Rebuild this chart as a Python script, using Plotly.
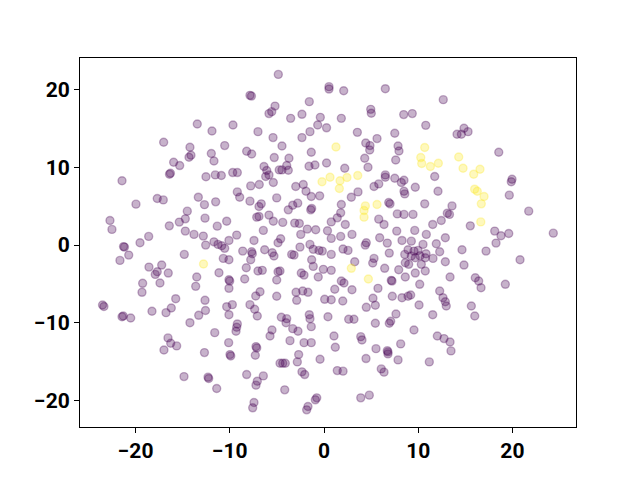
import plotly.graph_objects as go

# purple (class 0) points
purple_x = [-13.45,-17.02,-14.23,-14.33,-14.12,-15.96,-15.32,-16.40,-16.30,-21.44,-12.53,-4.85,-7.86,-7.70,-5.20,-5.55,-5.84,-1.56,-3.54,-2.34,
-0.39,-0.67,0.27,-9.66,-11.89,-7.01,-1.49,-5.41,-2.34,-4.46,-10.54,-11.96,-11.68,-8.21,-7.68,-1.35,-5.28,-3.72,-3.96,-1.59,
-0.96,0.27,-6.37,-6.08,-5.84,-6.19,-4.75,-4.46,-3.79,-11.54,-10.90,-9.69,-9.20,0.53,0.53,2.09,6.51,12.66,4.96,5.02,
8.46,9.37,1.84,10.80,3.54,7.51,5.63,4.43,4.88,4.85,7.86,7.96,4.32,7.61,2.20,4.67,11.75,6.51,6.51,7.51,
8.49,14.12,14.58,14.86,15.29,18.55,19.96,19.88,-17.70,-17.06,-13.34,-19.96,-12.69,-14.51,-14.72,-15.36,-22.72,-22.51,-16.42,-14.72,
-13.80,-12.81,-12.63,-18.61,-19.53,-21.28,-21.18,-20.73,-21.66,-14.83,-18.58,-17.23,-17.70,-17.91,-16.53,-13.51,-13.62,-19.25,-19.32,-17.41,
-15.74,-12.63,-23.51,-23.36,-7.78,-6.87,-5.38,-3.00,-2.20,-9.20,-8.95,-1.91,-1.35,-0.46,-11.50,-7.86,-5.02,-6.66,-6.90,-2.79,
-3.32,-3.79,-1.31,-1.41,-10.33,-6.90,-7.14,-5.84,-5.38,-4.38,-3.11,-2.62,-11.33,-6.44,-1.77,-0.88,0.37,-2.47,-9.27,-10.09,
-7.43,-4.60,-4.88,-11.68,-11.25,-10.86,-10.54,-12.56,-1.49,-1.14,-0.53,-2.55,-8.63,-7.68,-7.61,-6.30,-5.49,-5.31,-3.43,-3.18,
-0.18,-10.69,-10.09,-7.78,-1.31,-1.14,-8.25,-11.15,-7.01,-6.55,-4.88,-4.67,-2.41,-2.12,-0.07,-0.61,-10.09,-10.01,-8.42,-5.02,
-10.09,-6.79,-7.25,-5.02,-2.97,-2.26,-1.70,-2.90,0.07,2.90,3.61,5.31,5.81,8.49,8.57,8.21,9.69,12.10,6.87,7.01,
1.84,1.77,1.41,7.78,8.49,9.45,10.69,13.09,13.32,13.59,0.77,2.26,5.81,6.37,11.54,12.45,0.77,2.97,1.77,7.72,
9.63,10.86,12.88,5.91,4.49,4.38,6.72,8.28,9.27,10.51,11.92,2.02,2.55,0.77,6.93,8.92,9.55,9.98,8.57,9.27,
9.69,10.19,10.83,10.75,11.57,12.28,5.31,5.17,3.26,12.88,8.63,8.99,10.33,10.75,0.77,6.44,7.93,9.69,1.84,2.12,
7.14,7.22,10.16,8.63,1.14,2.97,5.73,12.28,7.25,8.28,8.92,9.20,12.63,12.88,1.99,0.77,5.20,10.09,19.67,21.73,
15.53,18.12,18.79,19.61,24.34,18.26,14.65,17.20,20.81,14.86,13.38,16.06,16.42,16.67,19.25,15.64,-21.44,-21.31,-20.52,-18.26,
-16.77,-16.21,-14.23,-13.30,-12.58,-16.56,-16.27,-15.64,-16.99,-12.69,-14.86,-10.33,-9.73,-10.09,-7.86,-7.36,-7.08,-9.20,-9.27,-9.34,
-11.60,-4.53,-3.96,-4.03,-3.32,-2.76,-1.56,-1.49,-1.35,0.42,-5.52,-5.73,-10.12,-7.22,-7.14,-7.29,-9.98,-9.90,-3.61,-2.12,
-1.35,-2.69,-2.83,-0.42,-4.67,-4.38,-4.11,-2.34,-2.05,-12.31,-12.24,-11.39,-8.21,-6.44,-7.08,-7.22,-4.17,-7.43,-7.57,-0.77,
-0.92,-1.70,-1.84,4.49,5.45,11.54,12.98,2.62,3.18,5.45,7.64,7.08,6.93,9.55,1.06,3.90,4.03,1.20,5.52,6.72,
6.79,6.79,8.14,12.03,12.74,13.38,13.48,4.46,7.86,11.18,1.41,2.02,6.08,6.37,3.90,4.81,16.00]
purple_y = [15.59,13.24,12.60,11.31,11.57,10.67,10.24,9.13,9.25,8.29,8.80,21.98,19.28,19.19,17.90,17.18,16.93,18.47,16.32,16.84,
16.45,15.46,15.10,15.46,14.69,14.61,14.61,13.84,13.84,12.76,12.81,11.79,10.83,12.08,11.73,11.95,11.27,11.18,10.24,10.15,
10.32,10.57,10.12,9.60,9.04,8.83,9.68,9.68,9.64,9.04,8.96,9.34,9.34,20.40,20.09,19.88,20.14,18.73,17.48,16.97,
16.80,16.93,16.32,15.42,14.52,14.40,13.71,13.15,12.81,12.25,12.76,12.12,11.18,10.96,9.90,10.03,8.83,9.04,8.74,8.61,
8.35,14.27,14.27,15.04,14.61,11.95,8.48,8.16,6.00,5.82,6.17,5.27,5.21,4.37,3.38,2.96,3.17,2.02,2.48,1.80,
1.38,1.16,3.47,1.12,0.30,-0.19,-0.26,-1.29,-1.97,-1.20,-2.83,-2.57,-3.43,-3.77,-3.60,-4.11,-5.31,-4.92,-6.08,-4.88,
-6.90,-7.11,-7.71,-7.90,7.62,7.80,8.06,7.54,7.80,6.85,6.17,6.94,6.26,6.34,5.57,5.66,6.08,5.31,4.97,5.40,
5.14,4.54,4.72,4.54,3.08,3.69,3.60,3.86,3.08,2.92,2.83,2.79,2.44,1.89,2.06,1.97,1.85,1.38,1.29,0.60,
0.60,0.81,0.30,0.42,0.09,-0.09,-0.42,0.00,0.09,-0.55,-0.68,-0.26,-0.77,-0.86,-1.12,-0.60,-0.99,-1.41,-1.20,-1.29,
-0.77,-1.71,-1.89,-1.89,-1.89,-2.74,-2.92,-3.56,-3.34,-3.25,-3.43,-3.34,-3.60,-3.86,-3.12,-4.11,-4.46,-4.63,-4.37,-4.50,
-5.57,-6.00,-6.56,-6.59,-6.08,-5.91,-6.08,-7.11,-6.98,6.17,6.85,7.54,7.88,6.94,6.59,8.06,7.45,6.94,5.49,5.31,
5.23,4.15,3.51,4.02,3.95,3.95,5.31,4.11,3.95,5.05,2.99,2.66,3.34,2.66,2.66,3.17,0.86,1.38,1.12,1.80,
1.89,1.38,0.94,0.94,0.30,0.00,0.26,0.60,0.51,0.09,0.17,-0.51,-0.68,-1.20,-1.03,-0.60,-0.77,-0.68,-1.20,-1.41,
-1.63,-1.38,-1.12,-1.63,-1.71,-0.86,-1.71,-2.31,-2.15,-2.15,-2.27,-2.48,-2.48,-3.34,-3.25,-2.99,-3.17,-3.60,-4.63,-4.88,
-4.54,-4.63,-5.05,-4.11,-5.69,-5.75,-5.57,-5.91,-6.59,-6.77,-6.59,-6.43,-6.77,-7.29,-7.20,-7.03,-6.85,-7.71,6.43,4.37,
2.48,1.80,1.20,1.50,1.54,0.26,-0.60,-0.77,-1.89,-2.57,-4.11,-4.20,-4.63,-5.49,-5.05,-7.84,-9.22,-9.13,-9.38,-8.52,
-8.70,-8.10,-9.99,-9.04,-8.42,-11.95,-12.63,-12.98,-13.50,-13.84,-16.93,-7.93,-7.67,-8.96,-7.67,-8.26,-9.13,-10.15,-10.58,-11.09,
-11.27,-9.29,-9.47,-9.99,-10.76,-11.09,-8.96,-9.47,-10.50,-9.22,-10.93,-11.70,-12.56,-13.07,-13.24,-14.18,-14.10,-14.27,-12.30,-12.56,
-12.56,-14.10,-15.04,-14.69,-15.21,-15.21,-15.21,-16.32,-16.67,-17.00,-17.18,-18.47,-16.67,-16.84,-17.52,-18.03,-18.64,-20.27,-20.95,-19.67,
-19.92,-20.78,-21.21,-8.01,-7.75,-8.96,-7.84,-9.55,-9.55,-10.06,-8.87,-9.81,-10.06,-10.93,-11.70,-11.79,-12.21,-13.15,-13.33,-13.59,
-13.75,-14.01,-12.72,-11.70,-12.04,-12.47,-13.62,-14.61,-14.78,-15.04,-16.16,-16.23,-15.94,-16.36,-19.67,-19.32,-9.13]

# yellow (class 1) points
yellow_x = [1.27,-0.21,0.64,1.70,2.44,3.58,1.63,10.69,10.27,10.37,11.29,12.14,14.30,14.76,16.56,15.89,15.99,16.27,16.99,16.70,
16.64,4.39,4.25,4.25,5.63,2.90,4.71,-12.79]
yellow_y = [12.63,8.16,8.74,8.29,8.70,8.96,7.29,12.56,11.27,10.50,10.12,10.54,11.35,9.90,9.77,9.13,7.20,6.94,6.26,5.31,
2.99,5.05,4.46,3.60,5.23,-2.99,-4.37,-2.44]

tick_vals = [-20, -10, 0, 10, 20]

purple = "rgba(68,1,84,0.3)"
yellow = "rgba(253,231,37,0.3)"

fig = go.Figure()
fig.add_trace(go.Scatter(x=purple_x, y=purple_y, mode="markers",
                         marker=dict(size=8, color=purple, line=dict(color=purple, width=1.4)),
                         showlegend=False))
fig.add_trace(go.Scatter(x=yellow_x, y=yellow_y, mode="markers",
                         marker=dict(size=8, color=yellow, line=dict(color=yellow, width=1.4)),
                         showlegend=False))

axis_common = dict(showgrid=False, zeroline=False, showline=True, linecolor="black", linewidth=1,
                   mirror=True, ticks="outside", ticklen=5, tickwidth=1, tickcolor="black",
                   tickvals=tick_vals,
                   tickfont=dict(family="Roboto", size=21, color="black", weight="bold"))

fig.update_layout(
    width=640, height=480,
    margin=dict(l=72, r=72, t=50, b=61),
    paper_bgcolor="white", plot_bgcolor="white",
    xaxis=dict(range=[-25.90, 26.75], **axis_common),
    yaxis=dict(range=[-23.42, 24.09], **axis_common),
)

fig.write_html("out.html")
